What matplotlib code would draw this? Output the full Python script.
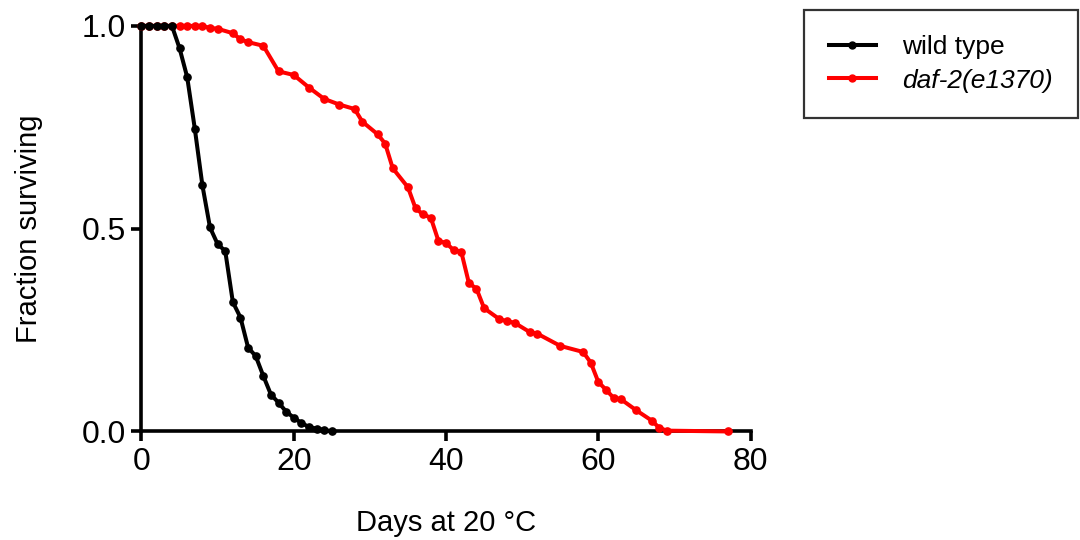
import matplotlib
matplotlib.use("Agg")
import matplotlib.pyplot as plt

plt.rcParams['font.family'] = ['Liberation Sans', 'DejaVu Sans']

# Data
wt_days = list(range(0, 26))
wt_surv = [1.0, 1.0, 1.0, 1.0, 1.0, 0.945, 0.874, 0.747, 0.607, 0.503,
           0.462, 0.445, 0.319, 0.281, 0.207, 0.186, 0.137, 0.091, 0.071,
           0.049, 0.034, 0.021, 0.011, 0.007, 0.004, 0.0]

daf_days = [0, 1, 2, 3, 4, 5, 6, 7, 8, 9, 10, 12, 13, 14, 16, 18, 20, 22, 24,
            26, 28, 29, 31, 32, 33, 35, 36, 37, 38, 39, 40, 41, 42, 43, 44,
            45, 47, 48, 49, 51, 52, 55, 58, 59, 60, 61, 62, 63, 65, 67, 68,
            69, 77]
daf_surv = [1.0, 1.0, 1.0, 1.0, 1.0, 1.0, 1.0, 1.0, 1.0, 0.995, 0.993, 0.982,
            0.967, 0.96, 0.951, 0.888, 0.879, 0.848, 0.82, 0.806, 0.795,
            0.764, 0.733, 0.71, 0.649, 0.602, 0.55, 0.535, 0.527, 0.47,
            0.465, 0.447, 0.443, 0.366, 0.352, 0.304, 0.277, 0.272, 0.268,
            0.245, 0.241, 0.211, 0.196, 0.17, 0.122, 0.103, 0.083, 0.079,
            0.052, 0.027, 0.009, 0.002, 0.0]

labels = ['wild type', 'daf-2(e1370)']
colors = ['black', '#ff0000']
xticks = [0, 20, 40, 60, 80]
yticks = [0.0, 0.5, 1.0]

fig = plt.figure(figsize=(10.8, 5.4), dpi=100)
ax = fig.add_axes([0.131, 0.201, 0.564, 0.751])

lw = 2.9
ms = 5.2
ax.plot(daf_days, daf_surv, color=colors[1], lw=lw, marker='o', ms=ms,
        label=labels[1], clip_on=False, zorder=3)
ax.plot(wt_days, wt_surv, color=colors[0], lw=lw, marker='o', ms=ms,
        label=labels[0], clip_on=False, zorder=4)

ax.set_xlim(0, 80)
ax.set_ylim(0, 1.0)
ax.set_xticks(xticks)
ax.set_xticklabels([str(t) for t in xticks])
ax.set_yticks(yticks)
ax.set_yticklabels(['%.1f' % t for t in yticks])

for s in ['top', 'right']:
    ax.spines[s].set_visible(False)
for s in ['left', 'bottom']:
    ax.spines[s].set_linewidth(2.6)
ax.tick_params(axis='both', direction='out', length=7, width=2.6,
               labelsize=23, pad=4)

ax.set_xlabel('Days at 20 °C', fontsize=21, labelpad=23)
ax.set_ylabel('Fraction surviving', fontsize=21, labelpad=28)

handles, labs = ax.get_legend_handles_labels()
order = [1, 0]
leg = fig.legend([handles[i] for i in order], [labs[i] for i in order],
                 loc='upper left', bbox_to_anchor=(0.744, 0.981),
                 bbox_transform=fig.transFigure, fontsize=19,
                 frameon=True, fancybox=False, numpoints=1,
                 handlelength=1.8, handletextpad=1.0, borderpad=0.95,
                 labelspacing=0.35, borderaxespad=0)
leg.get_frame().set_edgecolor('black')
leg.get_frame().set_linewidth(1.6)
leg.get_texts()[1].set_style('italic')
for h in leg.legend_handles:
    h.set_markersize(5)

fig.savefig('out.png', dpi=100)
